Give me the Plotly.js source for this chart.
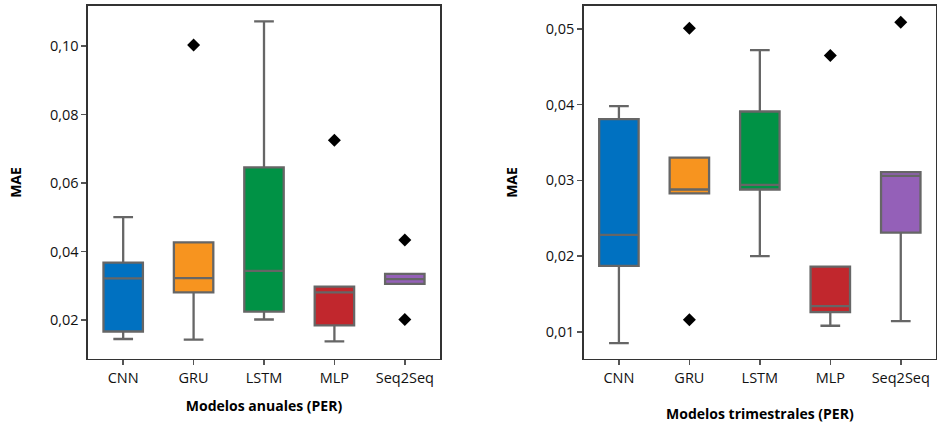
<!DOCTYPE html>
<html>
<head>
<meta charset="utf-8">
<script src="https://cdn.plot.ly/plotly-3.0.1.min.js"></script>
<style>html,body{margin:0;padding:0;background:#fff}#chart{width:939px;height:425px}</style>
</head>
<body>
<div id="chart"></div>
<script>
// Categories and colours
const models = ['CNN', 'GRU', 'LSTM', 'MLP', 'Seq2Seq'];
const colors = ['#0071c1', '#f7941f', '#009245', '#c1272d', '#9460b8'];

// Annual models (PER) — box statistics
const annLow    = [0.0145, 0.0143, 0.0202, 0.0138, 0.0306];
const annQ1     = [0.0167, 0.0281, 0.0225, 0.0185, 0.0306];
const annMedian = [0.0322, 0.0323, 0.0344, 0.0281, 0.0320];
const annQ3     = [0.0368, 0.0427, 0.0646, 0.0298, 0.0335];
const annHigh   = [0.0501, 0.0427, 0.1072, 0.0298, 0.0335];
const annOutX   = ['GRU', 'MLP', 'Seq2Seq', 'Seq2Seq'];
const annOutY   = [0.1003, 0.0725, 0.0434, 0.0202];

// Quarterly models (PER) — box statistics
const qtrLow    = [0.0085, 0.0283, 0.0200, 0.0108, 0.0114];
const qtrQ1     = [0.0187, 0.0283, 0.0288, 0.0126, 0.0231];
const qtrMedian = [0.0228, 0.0288, 0.0294, 0.0134, 0.0306];
const qtrQ3     = [0.0381, 0.0330, 0.0391, 0.0186, 0.0311];
const qtrHigh   = [0.0398, 0.0330, 0.0472, 0.0186, 0.0311];
const qtrOutX   = ['GRU', 'GRU', 'MLP', 'Seq2Seq'];
const qtrOutY   = [0.0501, 0.0116, 0.0465, 0.0509];

const boxLine = '#666666';
const traces = [];
function addBoxes(low, q1, med, q3, high, xa, ya) {
  models.forEach((m, i) => {
    traces.push({
      type: 'box', x: [m], lowerfence: [low[i]], q1: [q1[i]], median: [med[i]],
      q3: [q3[i]], upperfence: [high[i]], xaxis: xa, yaxis: ya,
      fillcolor: colors[i], line: {color: boxLine, width: 2.3},
      whiskerwidth: 0.5, boxpoints: false, showlegend: false, hoverinfo: 'y'
    });
  });
}
addBoxes(annLow, annQ1, annMedian, annQ3, annHigh, 'x', 'y');
addBoxes(qtrLow, qtrQ1, qtrMedian, qtrQ3, qtrHigh, 'x2', 'y2');
traces.push({type: 'scatter', mode: 'markers', x: annOutX, y: annOutY, xaxis: 'x', yaxis: 'y',
  marker: {symbol: 'diamond', color: '#000', size: 10}, showlegend: false});
traces.push({type: 'scatter', mode: 'markers', x: qtrOutX, y: qtrOutY, xaxis: 'x2', yaxis: 'y2',
  marker: {symbol: 'diamond', color: '#000', size: 10}, showlegend: false});

const font = {family: 'Open Sans, Lato, sans-serif', size: 14.5, color: '#111'};
const xBase = {
  type: 'category', categoryorder: 'array', categoryarray: models,
  showline: true, mirror: true, linecolor: '#333', linewidth: 1.5,
  ticks: 'outside', ticklen: 5, tickcolor: '#555', tickwidth: 1.5,
  showgrid: false, zeroline: false, tickfont: font, anchor: 'y'
};
const yBase = {
  showline: true, mirror: true, linecolor: '#333', linewidth: 1.5,
  ticks: 'outside', ticklen: 5, tickcolor: '#555', tickwidth: 1.5,
  showgrid: false, zeroline: false, tickfont: font, tickformat: '.2f'
};
const titleFont = {family: 'Open Sans, Lato, sans-serif', size: 14, color: '#000', weight: 'bold'};

const layout = {
  width: 939, height: 425,
  margin: {l: 0, r: 0, t: 0, b: 0},
  paper_bgcolor: '#fff', plot_bgcolor: '#fff',
  separators: ',.',
  boxmode: 'overlay', boxgap: 0.2,
  showlegend: false,
  xaxis: Object.assign({}, xBase, {domain: [0.0937, 0.4686], anchor: 'y',
    title: {text: 'Modelos anuales (PER)', font: titleFont, standoff: 15}}),
  yaxis: Object.assign({}, yBase, {domain: [0.1553, 0.9859], anchor: 'x',
    range: [0.00867, 0.1117], tickvals: [0.02, 0.04, 0.06, 0.08, 0.10],
    title: {text: 'MAE', font: titleFont, standoff: 25}}),
  xaxis2: Object.assign({}, xBase, {domain: [0.6216, 0.9968], anchor: 'y2',
    title: {text: 'Modelos trimestrales (PER)', font: titleFont, standoff: 23}}),
  yaxis2: Object.assign({}, yBase, {domain: [0.1553, 0.9859], anchor: 'x2',
    range: [0.00641, 0.05304], tickvals: [0.01, 0.02, 0.03, 0.04, 0.05],
    title: {text: 'MAE', font: titleFont, standoff: 24}})
};

Plotly.newPlot('chart', traces, layout, {displayModeBar: false, staticPlot: true});
</script>
</body>
</html>
